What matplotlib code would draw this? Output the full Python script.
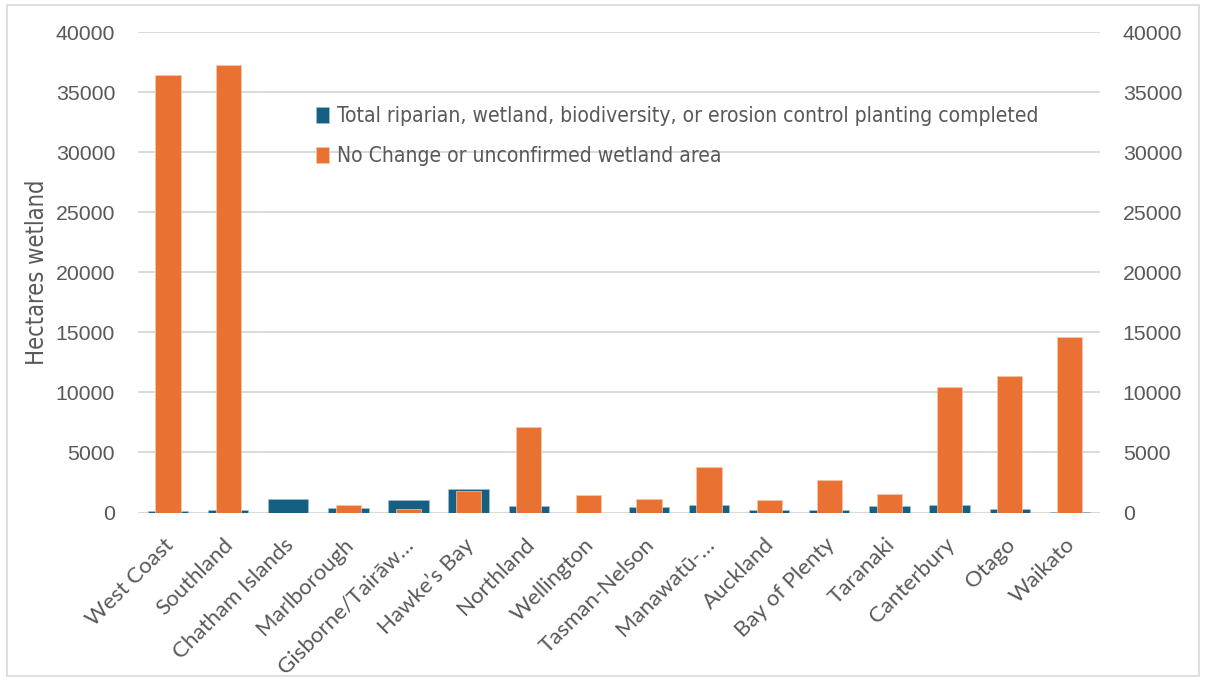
import matplotlib
matplotlib.use("Agg")
import matplotlib.pyplot as plt
from matplotlib.patches import Rectangle
from matplotlib.transforms import ScaledTranslation
from matplotlib import font_manager
import numpy as np

regions = ["West Coast", "Southland", "Chatham Islands", "Marlborough",
           "Gisborne/Tairāw…", "Hawke’s Bay", "Northland", "Wellington",
           "Tasman-Nelson", "Manawatū-…", "Auckland", "Bay of Plenty",
           "Taranaki", "Canterbury", "Otago", "Waikato"]
planting_done = [100, 220, 1100, 350, 1050, 1950, 550, 0,
                 480, 630, 240, 240, 540, 650, 270, 80]
unconfirmed = [36450, 37250, 0, 640, 300, 1830, 7150, 1480,
               1150, 3790, 1020, 2700, 1570, 10480, 11400, 14580]
y_ticks = [0, 5000, 10000, 15000, 20000, 25000, 30000, 35000, 40000]

series_names = ["Total riparian, wetland, biodiversity, or erosion control planting completed",
                "No Change or unconfirmed wetland area"]

BLUE = "#156082"
ORANGE = "#E97132"
GRID = "#d9d9d9"
TEXT = "#595959"

available = {f.name for f in font_manager.fontManager.ttflist}
narrow = "Liberation Sans Narrow" if "Liberation Sans Narrow" in available else "DejaVu Sans"
narrow_kw = {"family": narrow}
if narrow == "DejaVu Sans":
    narrow_kw["stretch"] = "condensed"

fig = plt.figure(figsize=(12.06, 6.8), dpi=100)
fig.patches.append(Rectangle((0.006, 0.006), 0.988, 0.986, transform=fig.transFigure,
                             fill=False, edgecolor="#d9d9d9", linewidth=1.2))

ax = fig.add_axes([0.1144, 0.2463, 0.7976, 0.7062])
ax2 = ax.twinx()

x = np.arange(len(regions))
b1 = ax.bar(x, planting_done, width=0.67, color=BLUE, edgecolor="#a9c4d0",
            linewidth=0.4, zorder=2, label=series_names[0])
b2 = ax2.bar(x, unconfirmed, width=0.42, color=ORANGE, edgecolor="#f6c7ad",
             linewidth=0.5, zorder=2, label=series_names[1])

for a in (ax, ax2):
    a.set_ylim(0, 40000)
    a.set_yticks(y_ticks)
    a.set_xlim(-0.5, len(regions) - 0.5)
    for s in ("top", "left", "right", "bottom"):
        a.spines[s].set_visible(False)
    a.tick_params(axis="y", length=0, labelsize=15.3, labelcolor=TEXT,
                  labelfontfamily="Liberation Sans", pad=16.5)

ax.yaxis.grid(True, color=GRID, linewidth=1.4)
ax.set_axisbelow(True)
ax.axhline(0, color=GRID, linewidth=2.2, zorder=1)

ax.set_xticks(x)
ax.set_xticklabels(regions, rotation=45, ha="right", rotation_mode="anchor",
                   fontsize=16, color=TEXT, family="Lato")
ax.tick_params(axis="x", length=0, pad=10)
shift = ScaledTranslation(-0.05, -0.08, fig.dpi_scale_trans)
for lbl in ax.get_xticklabels():
    lbl.set_transform(lbl.get_transform() + shift)

ax.set_ylabel("Hectares wetland", fontsize=17, color=TEXT, labelpad=5, **narrow_kw)

leg = ax2.legend(handles=[b1, b2], loc="upper left", bbox_to_anchor=(0.165, 0.885),
                 frameon=False, handlelength=0.65, handleheight=0.75,
                 handletextpad=0.35, labelspacing=0.95,
                 prop=dict(size=15.1, **narrow_kw))
for t in leg.get_texts():
    t.set_color(TEXT)

fig.savefig("out.png", dpi=100)
